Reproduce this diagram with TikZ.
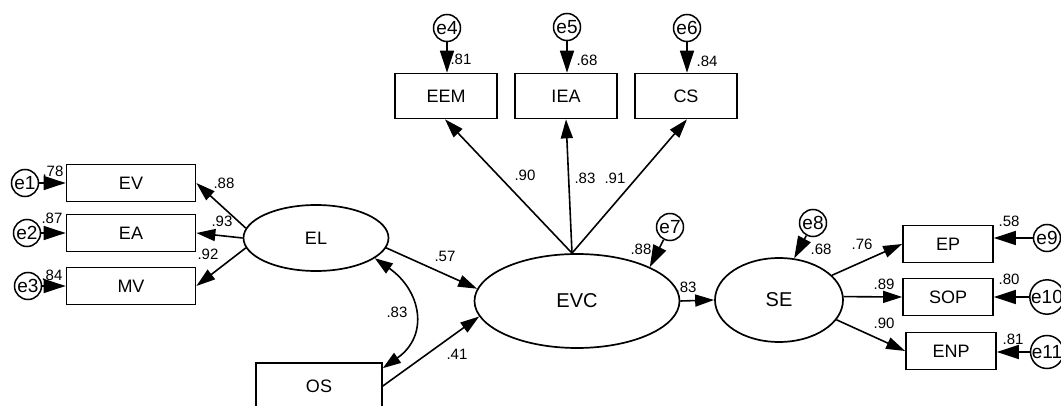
\documentclass[tikz,border=0pt]{standalone}
\usepackage{fontspec}
\setmainfont{Liberation Sans}
\usetikzlibrary{shapes.geometric,arrows.meta}
\begin{document}
\begin{tikzpicture}[x=1pt,y=-1pt,
  box/.style={draw,line width=1.7pt,inner sep=0pt,minimum width=129pt,minimum height=37pt,font=\fontsize{18}{18}\selectfont},
  bbox/.style={box,minimum width=102pt,minimum height=45pt},
  rbox/.style={box,minimum width=90pt,minimum height=37pt},
  lat/.style={draw,ellipse,line width=1.7pt,inner sep=0pt,font=\fontsize{18}{18}\selectfont},
  err/.style={draw,circle,line width=1.5pt,inner sep=0pt,minimum size=27pt,font=\fontsize{19}{19}\selectfont},
  lbl/.style={inner sep=0pt,font=\fontsize{15}{15}\selectfont},
  arr/.style={line width=1.6pt,-{Triangle[length=19pt,width=12pt]}},
  earr/.style={line width=1.6pt,-{Triangle[length=22pt,width=14pt]}},
  dbl/.style={line width=1.6pt,{Triangle[length=18pt,width=12pt]}-{Triangle[length=18pt,width=12pt]}}]
\useasboundingbox (0,0) rectangle (1061,406);
\fill[white] (0,0) rectangle (1061,406);
\clip (0,0) rectangle (1061,406);
% left indicators
\node[box] (ev) at (131,183) {EV};
\node[box] (ea) at (131,233) {EA};
\node[box] (mv) at (131,286) {MV};
\node[err] (e1) at (25,183) {e1};
\node[err] (e2) at (27,233) {e2};
\node[err] (e3) at (28,286) {e3};
\node[lat,minimum width=145pt,minimum height=66pt] (el) at (316,238) {EL};
\node[box,minimum width=126pt,minimum height=46pt] (os) at (319,386) {OS};
% top indicators
\node[bbox] (eem) at (446,96) {EEM};
\node[bbox] (iea) at (566,96) {IEA};
\node[bbox] (cs) at (686,96) {CS};
\node[err] (e4) at (447,28) {e4};
\node[err] (e5) at (567,27) {e5};
\node[err] (e6) at (687,28) {e6};
% central
\node[lat,minimum width=205pt,minimum height=94pt,font=\fontsize{20}{20}\selectfont] (evc) at (577,301) {EVC};
\node[err] (e7) at (670,227) {e7};
\node[lat,minimum width=128pt,minimum height=84pt,font=\fontsize{20}{20}\selectfont] (se) at (779,300) {SE};
\node[err] (e8) at (813,223) {e8};
% right indicators
\node[rbox] (ep) at (948,244) {EP};
\node[rbox] (sop) at (948,297) {SOP};
\node[rbox] (enp) at (951,351) {ENP};
\node[err] (e9) at (1047,238) {e9};
\node[err] (e10) at (1047,297) {e10};
\node[err] (e11) at (1047,352) {e11};
% error arrows
\draw[earr] (e1.east) -- (e1.east -| ev.west);
\draw[earr] (e2.east) -- (e2.east -| ea.west);
\draw[earr] (e3.east) -- (e3.east -| mv.west);
\draw[earr] (e4.south) -- (e4.south |- eem.north);
\draw[earr] (e5.south) -- (e5.south |- iea.north);
\draw[earr] (e6.south) -- (e6.south |- cs.north);
\draw[earr] (e7) -- (evc.25);
\draw[earr] (e8) -- (se.70);
\draw[earr] (e9.west) -- (e9.west -| ep.east);
\draw[earr] (e10.west) -- (e10.west -| sop.east);
\draw[earr] (e11.west) -- (e11.west -| enp.east);
% loadings
\draw[arr] (el.172) -- (ev.east);
\draw[arr] (el.180) -- (ea.east);
\draw[arr] (el.188) -- (mv.east);
\coordinate (top) at ([xshift=-5pt]evc.north);
\draw[arr] (top) -- ([xshift=-1pt]eem.south);
\draw[arr] (top) -- (iea.south);
\draw[arr] (top) -- ([xshift=1pt]cs.south);
\draw[arr] (se.25) -- (ep.west);
\draw[arr] (se.3) -- (sop.west);
\draw[arr] (se.-19) -- (enp.west);
% structural paths
\draw[arr] (el.-8) -- (evc.173);
\draw[arr] (os.east) -- (evc.189);
\draw[arr] (evc.east) -- (se.west);
\coordinate (osc) at ([yshift=-6pt]os.north east);
\draw[dbl] (el.-19) .. controls ([shift={(46,32)}]el.-19) and ([shift={(47,-33)}]osc) .. (osc);
% labels
\node[lbl] (l1) at (53,171) {.78};
\node[lbl] (l2) at (52,218) {.87};
\node[lbl] (l3) at (52,275) {.84};
\node[lbl] (l4) at (224,183) {.88};
\node[lbl] (l5) at (222,221) {.93};
\node[lbl] (l6) at (208,254) {.92};
\node[lbl] (l7) at (461,59) {.81};
\node[lbl] (l8) at (587,60) {.68};
\node[lbl] (l9) at (707,61) {.84};
\node[lbl] (l10) at (525,175) {.90};
\node[lbl] (l11) at (585,178) {.83};
\node[lbl] (l12) at (615,178) {.91};
\node[lbl] (l13) at (445,256) {.57};
\node[lbl] (l14) at (397,312) {.83};
\node[lbl] (l15) at (457,354) {.41};
\node[lbl] (l16) at (641,249) {.88};
\node[lbl] (l17) at (686,287) {.83};
\node[lbl] (l18) at (821,249) {.68};
\node[lbl] (l19) at (862,244) {.76};
\node[lbl] (l20) at (884,284) {.89};
\node[lbl] (l21) at (884,323) {.90};
\node[lbl] (l22) at (1009,221) {.58};
\node[lbl] (l23) at (1009,279) {.80};
\node[lbl] (l24) at (1013,339) {.81};
\end{tikzpicture}
\end{document}
